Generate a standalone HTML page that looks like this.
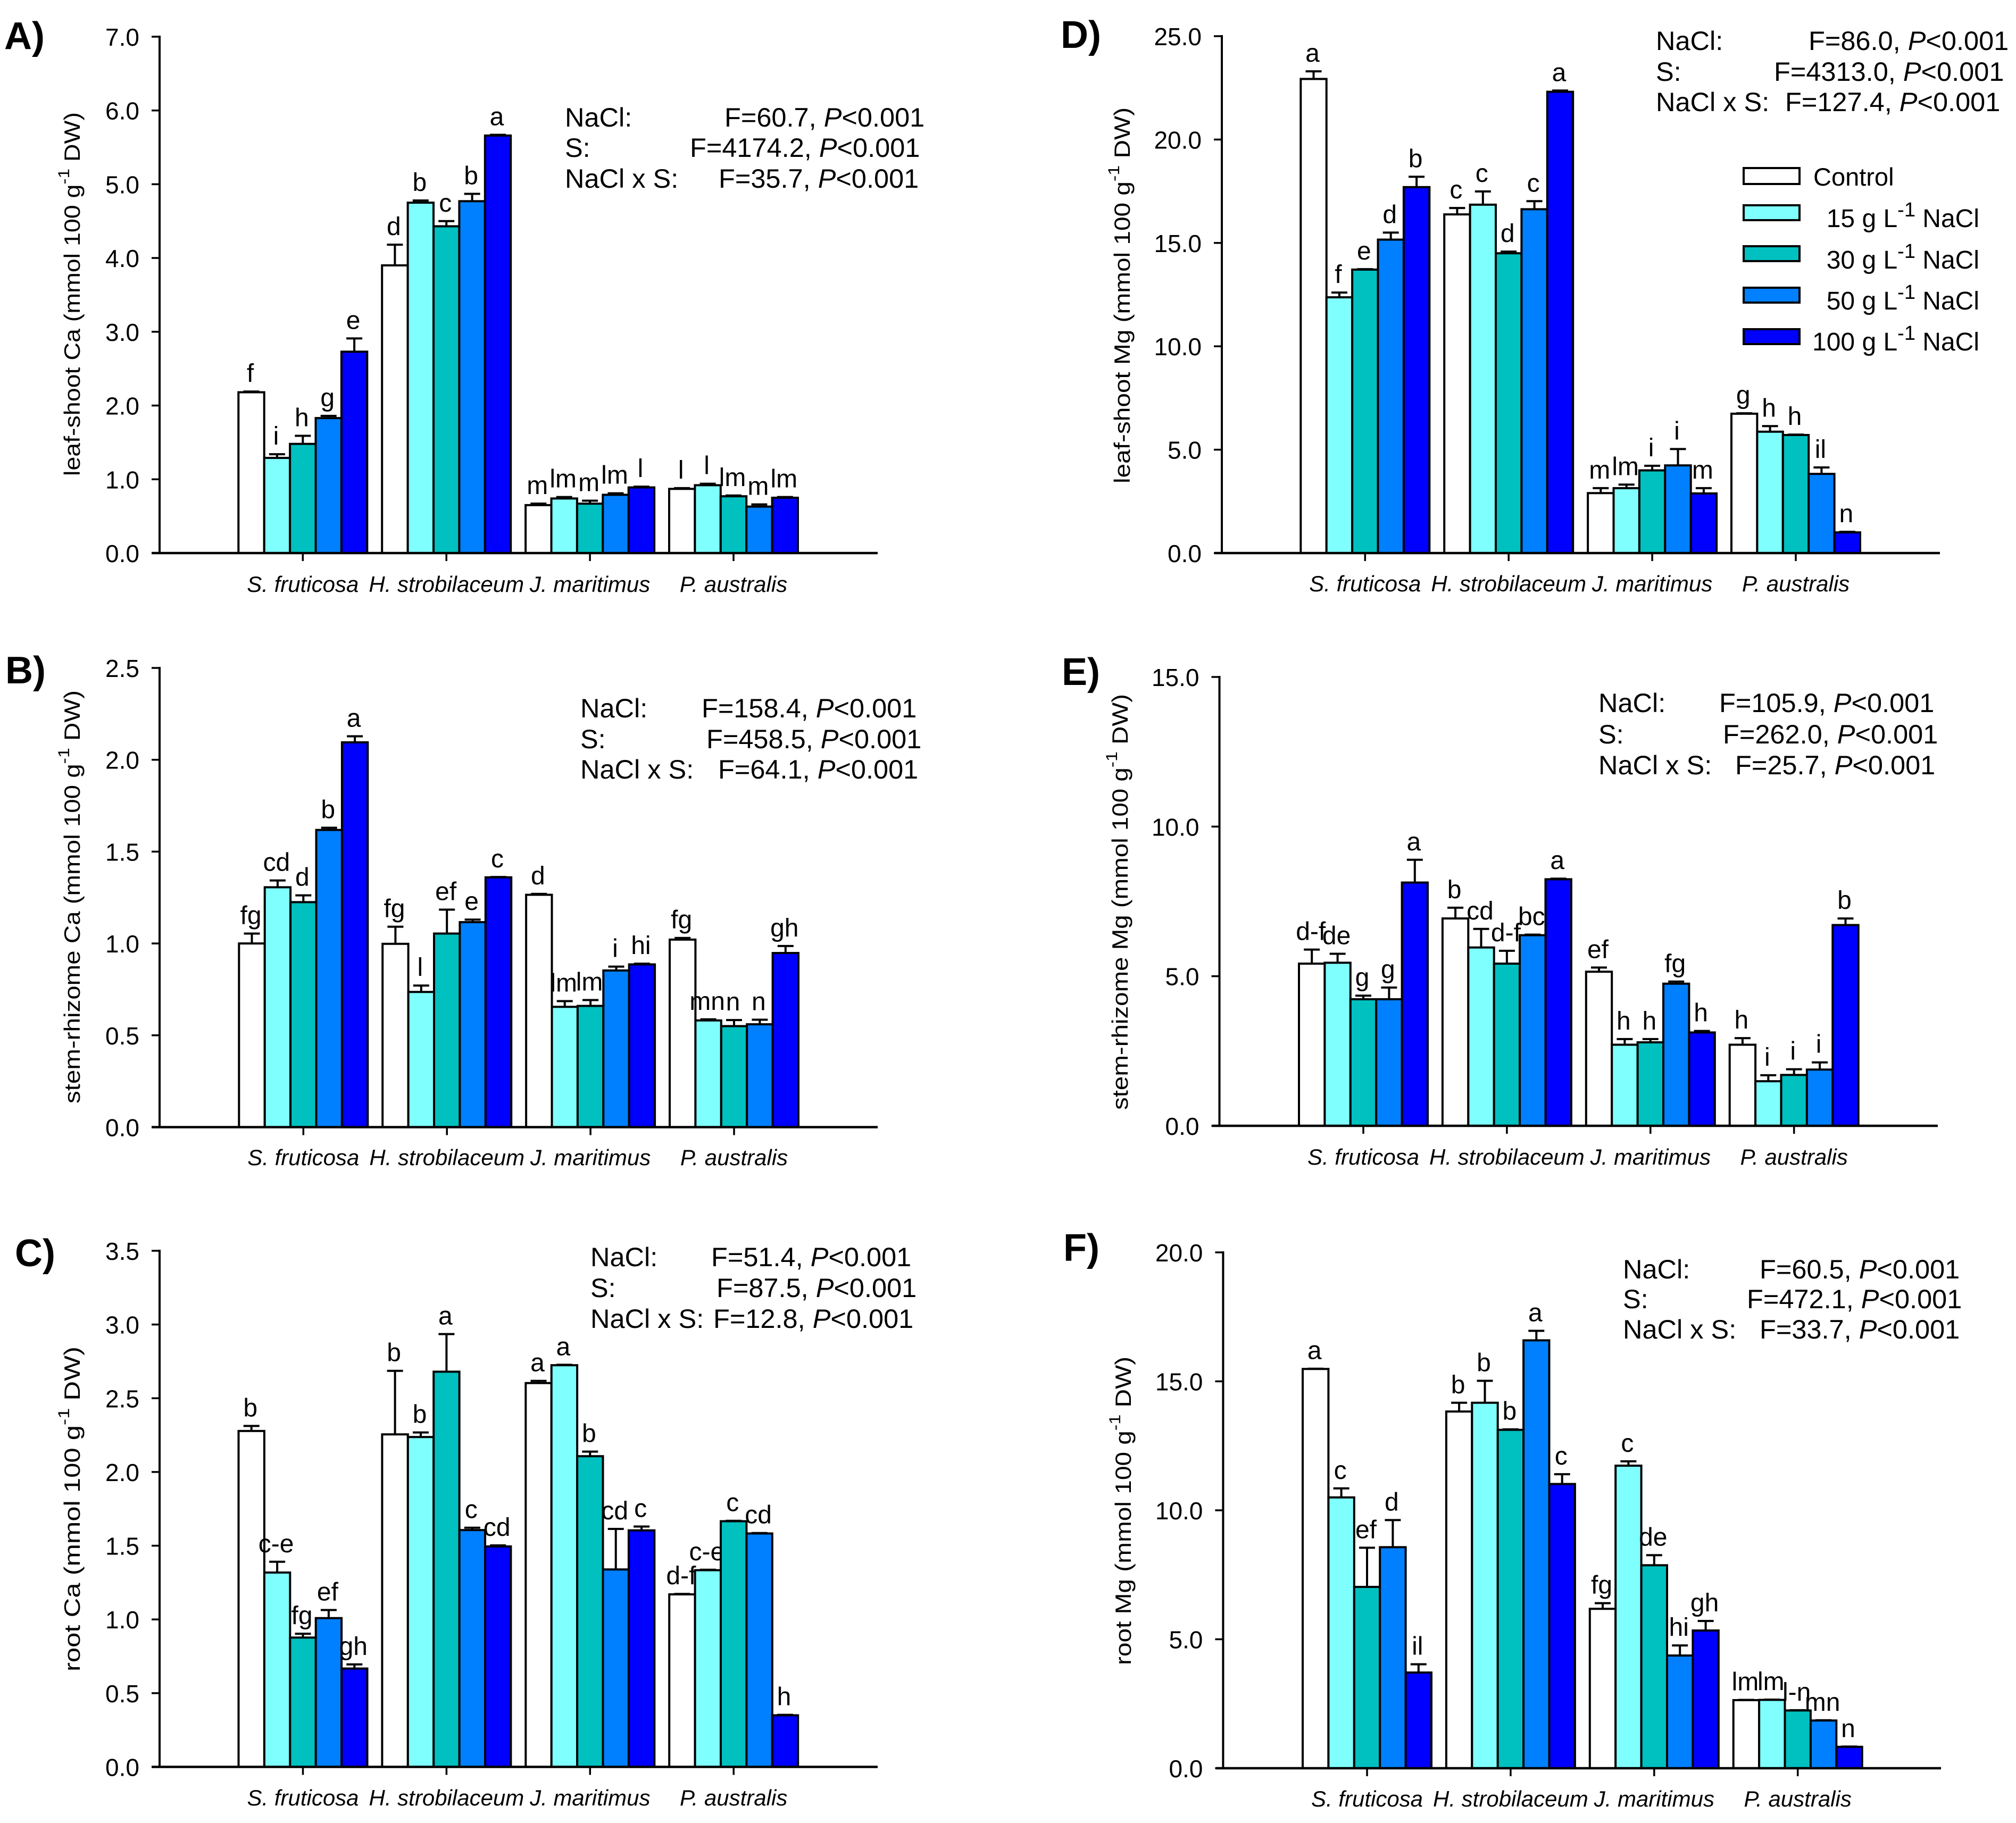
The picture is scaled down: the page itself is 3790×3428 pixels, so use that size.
<!DOCTYPE html>
<html lang="en">
<head>
<meta charset="utf-8">
<title>Ca and Mg content by species and salinity</title>
<style>
html,body{margin:0;padding:0;background:#fff;}
svg{display:block;font-family:"Liberation Sans",Arial,sans-serif;fill:#000;}
.stat{font-size:50.5px;}
.panel-letter{font-size:72px;font-weight:bold;}
.legend-text{font-size:47px;}
.legend-rate{font-size:48px;}
</style>
</head>
<body>
<svg id="figure" xmlns="http://www.w3.org/2000/svg" width="3790" height="3428" viewBox="0 0 3790 3428">
<rect x="0" y="0" width="3790" height="3428" fill="#fff"/>

<text class="panel-letter" x="8" y="92">A)</text>
<text class="panel-letter" x="10" y="1285">B)</text>
<text class="panel-letter" x="28" y="2381">C)</text>
<text class="panel-letter" x="1994" y="90">D)</text>
<text class="panel-letter" x="1996" y="1288">E)</text>
<text class="panel-letter" x="1999" y="2371">F)</text>

<g transform="translate(-7,0)">
<text class="stat" x="1069" y="238">NaCl:</text><text class="stat" x="1369" y="238">F=60.7, <tspan font-style="italic">P</tspan>&lt;0.001</text>
<text class="stat" x="1069" y="295">S:</text><text class="stat" x="1304" y="295">F=4174.2, <tspan font-style="italic">P</tspan>&lt;0.001</text>
<text class="stat" x="1069" y="353">NaCl x S:</text><text class="stat" x="1358" y="353">F=35.7, <tspan font-style="italic">P</tspan>&lt;0.001</text>
</g>
<g transform="translate(-7,-2)">
<text class="stat" x="1098" y="1351">NaCl:</text><text class="stat" x="1326" y="1351">F=158.4, <tspan font-style="italic">P</tspan>&lt;0.001</text>
<text class="stat" x="1098" y="1409">S:</text><text class="stat" x="1335" y="1409">F=458.5, <tspan font-style="italic">P</tspan>&lt;0.001</text>
<text class="stat" x="1098" y="1466">NaCl x S:</text><text class="stat" x="1357" y="1466">F=64.1, <tspan font-style="italic">P</tspan>&lt;0.001</text>
</g>
<g transform="translate(-7,0)">
<text class="stat" x="1117" y="2381">NaCl:</text><text class="stat" x="1344" y="2381">F=51.4, <tspan font-style="italic">P</tspan>&lt;0.001</text>
<text class="stat" x="1117" y="2439">S:</text><text class="stat" x="1354" y="2439">F=87.5, <tspan font-style="italic">P</tspan>&lt;0.001</text>
<text class="stat" x="1117" y="2497">NaCl x S:</text><text class="stat" x="1348" y="2497">F=12.8, <tspan font-style="italic">P</tspan>&lt;0.001</text>
</g>
<g transform="translate(-7,-1)">
<text class="stat" x="3120" y="95">NaCl:</text><text class="stat" x="3407" y="95">F=86.0, <tspan font-style="italic">P</tspan>&lt;0.001</text>
<text class="stat" x="3120" y="153">S:</text><text class="stat" x="3342" y="153">F=4313.0, <tspan font-style="italic">P</tspan>&lt;0.001</text>
<text class="stat" x="3120" y="210">NaCl x S:</text><text class="stat" x="3363" y="210">F=127.4, <tspan font-style="italic">P</tspan>&lt;0.001</text>
</g>
<g transform="translate(-7,-2)">
<text class="stat" x="3012" y="1341">NaCl:</text><text class="stat" x="3239" y="1341">F=105.9, <tspan font-style="italic">P</tspan>&lt;0.001</text>
<text class="stat" x="3012" y="1400">S:</text><text class="stat" x="3246" y="1400">F=262.0, <tspan font-style="italic">P</tspan>&lt;0.001</text>
<text class="stat" x="3012" y="1458">NaCl x S:</text><text class="stat" x="3269" y="1458">F=25.7, <tspan font-style="italic">P</tspan>&lt;0.001</text>
</g>
<g transform="translate(-8,-1)">
<text class="stat" x="3059" y="2405">NaCl:</text><text class="stat" x="3316" y="2405">F=60.5, <tspan font-style="italic">P</tspan>&lt;0.001</text>
<text class="stat" x="3059" y="2461">S:</text><text class="stat" x="3292" y="2461">F=472.1, <tspan font-style="italic">P</tspan>&lt;0.001</text>
<text class="stat" x="3059" y="2518">NaCl x S:</text><text class="stat" x="3316" y="2518">F=33.7, <tspan font-style="italic">P</tspan>&lt;0.001</text>
</g>

<g stroke-linejoin="miter" transform="translate(-7,-3)">
<g>
<rect x="3285" y="319" width="105" height="30" fill="#ffffff" stroke="#000" stroke-width="4"/>
<text class="legend-text" x="3416" y="352">Control</text></g>
<g>
<rect x="3285" y="389" width="105" height="28" fill="#80ffff" stroke="#000" stroke-width="4"/>
<text class="legend-rate" x="3728" y="430" text-anchor="end">15 g L<tspan dy="-20" font-size="38">-1</tspan><tspan dy="20"> NaCl</tspan></text></g>
<g>
<rect x="3285" y="466" width="105" height="28" fill="#00c0c0" stroke="#000" stroke-width="4"/>
<text class="legend-rate" x="3728" y="508" text-anchor="end">30 g L<tspan dy="-20" font-size="38">-1</tspan><tspan dy="20"> NaCl</tspan></text></g>
<g>
<rect x="3285" y="544" width="105" height="28" fill="#0080ff" stroke="#000" stroke-width="4"/>
<text class="legend-rate" x="3728" y="585" text-anchor="end">50 g L<tspan dy="-20" font-size="38">-1</tspan><tspan dy="20"> NaCl</tspan></text></g>
<g>
<rect x="3285" y="622" width="105" height="28" fill="#0000ff" stroke="#000" stroke-width="4"/>
<text class="legend-rate" x="3728" y="662" text-anchor="end">100 g L<tspan dy="-20" font-size="38">-1</tspan><tspan dy="20"> NaCl</tspan></text></g>
</g>
</svg>

<script>
// ---- shared categories ----
const speciesNames = ["S. fruticosa", "H. strobilaceum", "J. maritimus", "P. australis"];
const treatmentNames = ["control", "15-nacl", "30-nacl", "50-nacl", "100-nacl"];

// ---- A: leaf-shoot Ca ----
const leafCaTicks = ["0.0", "1.0", "2.0", "3.0", "4.0", "5.0", "6.0", "7.0"];
const leafCaMeans = [2.18, 1.29, 1.48, 1.83, 2.73, 3.90, 4.75, 4.43, 4.77, 5.66, 0.65, 0.74, 0.67, 0.79, 0.89, 0.87, 0.92, 0.77, 0.63, 0.75];
const leafCaUpper = [2.19, 1.34, 1.59, 1.86, 2.91, 4.18, 4.78, 4.50, 4.87, 5.67, 0.67, 0.76, 0.71, 0.81, 0.90, 0.88, 0.94, 0.78, 0.66, 0.76];
const leafCaLetters = ["f", "i", "h", "g", "e", "d", "b", "c", "b", "a", "m", "lm", "m", "lm", "l", "l", "l", "lm", "m", "lm"];

// ---- B: stem-rhizome Ca ----
const stemCaTicks = ["0.0", "0.5", "1.0", "1.5", "2.0", "2.5"];
const stemCaMeans = [1.00, 1.306, 1.225, 1.618, 2.095, 0.998, 0.736, 1.054, 1.116, 1.36, 1.265, 0.655, 0.66, 0.853, 0.886, 1.021, 0.581, 0.55, 0.56, 0.948];
const stemCaUpper = [1.054, 1.343, 1.262, 1.63, 2.128, 1.091, 0.771, 1.184, 1.13, 1.362, 1.27, 0.686, 0.692, 0.874, 0.89, 1.03, 0.587, 0.583, 0.585, 0.986];
const stemCaLetters = ["fg", "cd", "d", "b", "a", "fg", "l", "ef", "e", "c", "d", "lm", "lm", "i", "hi", "fg", "mn", "n", "n", "gh"];

// ---- C: root Ca ----
const rootCaTicks = ["0.0", "0.5", "1.0", "1.5", "2.0", "2.5", "3.0", "3.5"];
const rootCaMeans = [2.278, 1.318, 0.877, 1.009, 0.667, 2.255, 2.237, 2.68, 1.606, 1.495, 2.603, 2.724, 2.107, 1.339, 1.604, 1.17, 1.334, 1.666, 1.583, 0.35];
const rootCaUpper = [2.312, 1.391, 0.903, 1.064, 0.695, 2.686, 2.268, 2.935, 1.622, 1.502, 2.618, 2.727, 2.138, 1.614, 1.63, 1.173, 1.337, 1.669, 1.586, 0.353];
const rootCaLetters = ["b", "c-e", "fg", "ef", "gh", "b", "b", "a", "c", "cd", "a", "a", "b", "cd", "c", "d-f", "c-e", "c", "cd", "h"];

// ---- D: leaf-shoot Mg ----
const leafMgTicks = ["0.0", "5.0", "10.0", "15.0", "20.0", "25.0"];
const leafMgMeans = [22.93, 12.37, 13.71, 15.16, 17.70, 16.38, 16.85, 14.50, 16.63, 22.31, 2.90, 3.14, 4.00, 4.24, 2.885, 6.74, 5.87, 5.71, 3.83, 1.00];
const leafMgUpper = [23.30, 12.60, 13.73, 15.50, 18.20, 16.69, 17.49, 14.58, 17.02, 22.37, 3.14, 3.31, 4.22, 5.03, 3.14, 6.76, 6.14, 5.73, 4.14, 1.03];
const leafMgLetters = ["a", "f", "e", "d", "b", "c", "c", "d", "c", "a", "m", "lm", "i", "i", "m", "g", "h", "h", "il", "n"];

// ---- E: stem-rhizome Mg ----
const stemMgTicks = ["0.0", "5.0", "10.0", "15.0"];
const stemMgMeans = [5.42, 5.45, 4.23, 4.23, 8.13, 6.93, 5.96, 5.42, 6.37, 8.24, 5.15, 2.71, 2.79, 4.75, 3.12, 2.71, 1.49, 1.70, 1.88, 6.71];
const stemMgUpper = [5.89, 5.75, 4.35, 4.62, 8.89, 7.29, 6.58, 5.85, 6.39, 8.26, 5.29, 2.90, 2.90, 4.82, 3.17, 2.93, 1.69, 1.89, 2.12, 6.93];
const stemMgLetters = ["d-f", "de", "g", "g", "a", "b", "cd", "d-f", "bc", "a", "ef", "h", "h", "fg", "h", "h", "i", "i", "i", "b"];

// ---- F: root Mg ----
const rootMgTicks = ["0.0", "5.0", "10.0", "15.0", "20.0"];
const rootMgMeans = [15.48, 10.50, 7.03, 8.57, 3.71, 13.83, 14.17, 13.12, 16.59, 11.02, 6.18, 11.73, 7.87, 4.37, 5.34, 2.64, 2.65, 2.24, 1.85, 0.83];
const rootMgUpper = [15.49, 10.85, 8.55, 9.62, 4.03, 14.17, 15.02, 13.14, 16.96, 11.40, 6.40, 11.90, 8.26, 4.76, 5.71, 2.65, 2.66, 2.25, 1.86, 0.84];
const rootMgLetters = ["a", "c", "ef", "d", "il", "b", "b", "b", "a", "c", "fg", "c", "de", "hi", "gh", "lm", "lm", "l-n", "mn", "n"];

const barFills = ["#ffffff", "#80ffff", "#00c0c0", "#0080ff", "#0000ff"];
const svgNS = "http://www.w3.org/2000/svg";
const figure = document.getElementById("figure");

const panels = [
  {key:"a", title:"leaf-shoot Ca", gap:"", ticks:leafCaTicks, means:leafCaMeans, upper:leafCaUpper, letters:leafCaLetters,
   axisX:300, xLeft:285, xRight:1650, yTop:69, yZero:1040, firstGroup:569.3, spec:1113,
   titleX:150, titleBottom:895, titleLen:684},
  {key:"b", title:"stem-rhizome Ca", gap:" ", ticks:stemCaTicks, means:stemCaMeans, upper:stemCaUpper, letters:stemCaLetters,
   axisX:300, xLeft:285, xRight:1650, yTop:1256, yZero:2119.5, firstGroup:570.3, spec:2191,
   titleX:150, titleBottom:2075, titleLen:777},
  {key:"c", title:"root Ca", gap:"", ticks:rootCaTicks, means:rootCaMeans, upper:rootCaUpper, letters:rootCaLetters,
   axisX:300, xLeft:285, xRight:1650, yTop:2352, yZero:3322.5, firstGroup:569.5, spec:3395,
   titleX:150, titleBottom:3143, titleLen:611},
  {key:"d", title:"leaf-shoot Mg", gap:" ", ticks:leafMgTicks, means:leafMgMeans, upper:leafMgUpper, letters:leafMgLetters,
   axisX:2297, xLeft:2283, xRight:3647, yTop:68, yZero:1040, firstGroup:2566.3, spec:1112,
   titleX:2124, titleBottom:909, titleLen:707},
  {key:"e", title:"stem-rhizome Mg", gap:" ", ticks:stemMgTicks, means:stemMgMeans, upper:stemMgUpper, letters:stemMgLetters,
   axisX:2292.5, xLeft:2278.5, xRight:3643, yTop:1273, yZero:2117, firstGroup:2563, spec:2190,
   titleX:2120, titleBottom:2087, titleLen:782},
  {key:"f", title:"root Mg", gap:" ", ticks:rootMgTicks, means:rootMgMeans, upper:rootMgUpper, letters:rootMgLetters,
   axisX:2299.4, xLeft:2285.5, xRight:3649, yTop:2355, yZero:3325, firstGroup:2570, spec:3397,
   titleX:2126, titleBottom:3131, titleLen:580}
];

const barWidth = 48.4;
const groupStep = 269.9;

function addShape(parent, tag, attrs) {
  const node = document.createElementNS(svgNS, tag);
  for (const k in attrs) node.setAttribute(k, attrs[k]);
  parent.appendChild(node);
  return node;
}

function drawPanel(p) {
  const yMax = parseFloat(p.ticks[p.ticks.length - 1]);
  const yScale = v => p.yZero - (v / yMax) * (p.yZero - p.yTop);
  const groupCenter = g => p.firstGroup + g * groupStep;
  const barLeft = (g, t) => groupCenter(g) - 2.5 * barWidth + t * barWidth;

  const root = addShape(figure, "g", {});
  
  

  // series marks
  speciesNames.forEach((sp, g) => {
    treatmentNames.forEach((tr, t) => {
      const i = g * treatmentNames.length + t;
      const x = barLeft(g, t);
      const cx = x + barWidth / 2;
      const top = yScale(p.means[i]);
      const errTop = yScale(p.upper[i]);

      const stem = addShape(root, "line", {x1:cx, x2:cx, y1:top, y2:errTop, stroke:"#000", "stroke-width":4});
      
      

      const cap = addShape(root, "line", {x1:cx - 15, x2:cx + 15, y1:errTop, y2:errTop, stroke:"#000", "stroke-width":4});
      
      

      const bar = addShape(root, "rect", {x:x, y:top, width:barWidth, height:p.yZero - top, fill:barFills[t], stroke:"#000", "stroke-width":4});
      
      

      const letter = addShape(root, "text", {x:cx - 2, y:errTop - 18, "text-anchor":"middle", "font-size":48});
      letter.textContent = p.letters[i];
      
      
    });
  });

  // axes
  const yAxis = addShape(root, "line", {x1:p.axisX, x2:p.axisX, y1:p.yTop - 2, y2:p.yZero, stroke:"#000", "stroke-width":4});
  
  

  const xAxis = addShape(root, "line", {x1:p.xLeft, x2:p.xRight, y1:p.yZero, y2:p.yZero, stroke:"#000", "stroke-width":4.5});
  
  

  p.ticks.forEach(label => {
    const y = yScale(parseFloat(label));
    const tick = addShape(root, "line", {x1:p.axisX - 15, x2:p.axisX, y1:y, y2:y, stroke:"#000", "stroke-width":3.5});
    
    

    const tickText = addShape(root, "text", {x:p.axisX - 38, y:y + 17, "text-anchor":"end", "font-size":46});
    tickText.textContent = label;
    
    
  });

  speciesNames.forEach((sp, g) => {
    const cx = groupCenter(g);
    const tick = addShape(root, "line", {x1:cx, x2:cx, y1:p.yZero, y2:p.yZero + 15, stroke:"#000", "stroke-width":3.5});
    
    

    const label = addShape(root, "text", {x:cx, y:p.spec, "text-anchor":"middle", "font-size":42, "font-style":"italic"});
    label.textContent = sp;
    
    
  });

  // y-axis title
  const title = addShape(root, "text", {
    transform:"translate(" + p.titleX + "," + p.titleBottom + ") rotate(-90)",
    "font-size":42, textLength:p.titleLen, lengthAdjust:"spacingAndGlyphs"
  });
  
  
  title.appendChild(document.createTextNode(p.title + " (mmol 100 g"));
  const sup = addShape(title, "tspan", {dy:-20, "font-size":30});
  sup.textContent = "-1";
  const rest = addShape(title, "tspan", {dy:20});
  rest.textContent = " " + p.gap + "DW)";
}

panels.forEach(drawPanel);
</script>
</body>
</html>
